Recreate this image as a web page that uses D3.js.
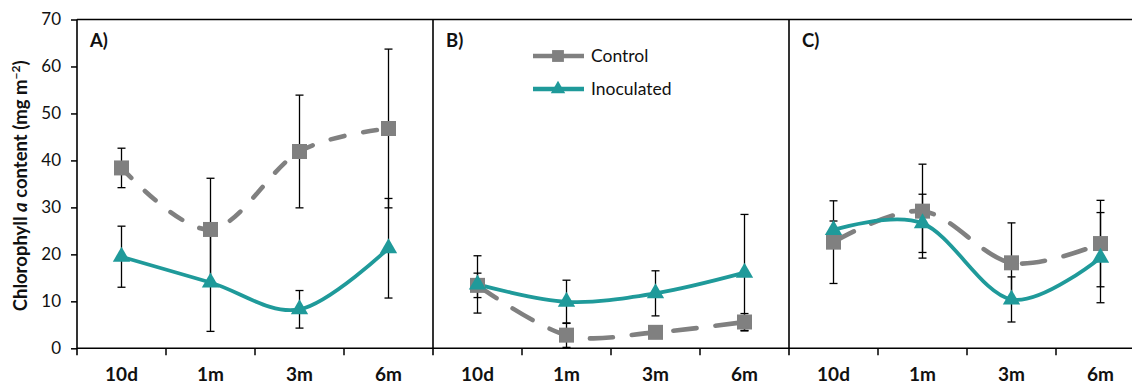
<!DOCTYPE html>
<html><head><meta charset="utf-8">
<script src="https://cdn.jsdelivr.net/npm/d3@7"></script>
<style>body{margin:0;background:#fff}svg{display:block}</style>
</head><body><svg id="c" width="1132" height="385"></svg>
<script>
const categories = ["10d","1m","3m","6m"];
const panelLabels = ["A)","B)","C)"];
const seriesNames = ["Control","Inoculated"];
const controlA = [38.4,25.3,41.9,46.8];
const controlAErr = [4.2,10.9,12.0,16.9];
const inocA = [19.5,14.0,8.3,21.3];
const inocAErr = [6.5,10.4,4.0,10.6];
const controlB = [13.4,2.8,3.4,5.6];
const controlBErr = [2.6,2.6,0.4,1.8];
const inocB = [13.6,9.9,11.7,16.1];
const inocBErr = [6.1,4.6,4.8,12.4];
const controlC = [22.6,29.2,18.2,22.3];
const controlCErr = [8.8,10.0,8.5,9.2];
const inocC = [25.2,26.6,10.4,19.3];
const inocCErr = [1.9,6.2,4.8,9.6];
const yTicks = [0,10,20,30,40,50,60,70];

const panels = [
  {label: panelLabels[0], control: controlA, cErr: controlAErr, inoc: inocA, iErr: inocAErr, dash: "14,19"},
  {label: panelLabels[1], control: controlB, cErr: controlBErr, inoc: inocB, iErr: inocBErr, dash: "23,19"},
  {label: panelLabels[2], control: controlC, cErr: controlCErr, inoc: inocC, iErr: inocCErr, dash: "23,19"}
];

const FONT = "Lato, 'Open Sans', sans-serif";
const TEXT = "#111";
const GRAY = "#808080";
const TEAL = "#1f9a9a";
const x0 = 77, panelW = 356, yTop = 19.5, yBot = 348.3, W = 1132;

const svg = d3.select("#c");
const y = d3.scaleLinear().domain([0,70]).range([yBot, yTop]);

const yAx = svg.append("g").attr("transform", `translate(${x0},0)`)
  .call(d3.axisLeft(y).tickValues(yTicks).tickSize(6).tickPadding(10).tickFormat(d3.format("d")));
yAx.select(".domain").remove();
yAx.selectAll("line").attr("stroke", "#000").attr("stroke-width", 1.5);
yAx.selectAll("text").attr("font-family", FONT).attr("font-size", 17).attr("fill", TEXT);

const frame = svg.append("g").attr("stroke", "#000").attr("stroke-width", 1.6).attr("fill", "none");
frame.append("line").attr("x1", x0).attr("x2", W).attr("y1", yTop).attr("y2", yTop);
frame.append("line").attr("x1", x0).attr("x2", W).attr("y1", yBot).attr("y2", yBot);

svg.append("text")
  .attr("transform", `translate(27,${(yTop+yBot)/2 + 2}) rotate(-90)`)
  .attr("text-anchor", "middle").attr("font-family", FONT).attr("font-weight", "bold")
  .attr("font-size", 18.5).attr("fill", TEXT)
  .call(t => {
    t.append("tspan").text("Chlorophyll ");
    t.append("tspan").attr("font-style", "italic").text("a");
    t.append("tspan").text(" content (mg m");
    t.append("tspan").attr("font-size", 12).attr("dy", -7).text("\u22122");
    t.append("tspan").attr("dy", 7).text(")");
  });

const line = d3.line().curve(d3.curveCardinal.tension(0));

panels.forEach((p, i) => {
  const left = x0 + i*panelW, right = left + panelW;
  const xb = d3.scaleBand().domain(categories).range([left, right]);
  const cx = d => xb(d) + xb.bandwidth()/2;
  const g = svg.append("g");

  g.append("line").attr("x1", left).attr("x2", left).attr("y1", yTop).attr("y2", yBot + 7)
    .attr("stroke", "#000").attr("stroke-width", 1.6);
  categories.forEach((c, k) => {
    if (k === 0) return;
    g.append("line").attr("x1", xb(c)).attr("x2", xb(c)).attr("y1", yBot).attr("y2", yBot + 7)
      .attr("stroke", "#000").attr("stroke-width", 1.5);
  });
  const xa = g.append("g").attr("transform", `translate(0,${yBot})`)
    .call(d3.axisBottom(xb).tickSize(0).tickPadding(19));
  xa.select(".domain").remove();
  xa.selectAll("text").attr("font-family", FONT).attr("font-weight", "bold")
    .attr("font-size", 19).attr("fill", TEXT);

  g.append("text").attr("x", left + 13).attr("y", 47).attr("font-family", FONT)
    .attr("font-weight", "bold").attr("font-size", 18.5).attr("fill", TEXT).text(p.label);

  const series = [
    {vals: p.control, err: p.cErr, color: GRAY, dash: p.dash, sym: d3.symbolSquare, size: 225},
    {vals: p.inoc, err: p.iErr, color: TEAL, dash: null, sym: d3.symbolTriangle, size: 130}
  ];

  const eb = g.append("g").attr("stroke", "#000").attr("stroke-width", 1.3);
  series.forEach(s => {
    categories.forEach((c, k) => {
      const v = s.vals[k], e = s.err[k], X = cx(c);
      eb.append("line").attr("x1", X).attr("x2", X).attr("y1", y(v+e)).attr("y2", y(Math.max(0, v-e)));
      [v+e, Math.max(0, v-e)].forEach(b => eb.append("line")
        .attr("x1", X-4).attr("x2", X+4).attr("y1", y(b)).attr("y2", y(b)));
    });
  });

  series.forEach(s => {
    const pts = categories.map((c, k) => [cx(c), y(s.vals[k])]);
    const path = g.append("path").attr("d", line(pts)).attr("fill", "none")
      .attr("stroke", s.color).attr("stroke-width", s.dash ? 4.6 : 3.8)
      .attr("stroke-linecap", s.dash ? "round" : "butt");
    if (s.dash) path.attr("stroke-dasharray", s.dash);
  });
  series.forEach(s => {
    categories.forEach((c, k) => {
      g.append("path").attr("d", d3.symbol().type(s.sym).size(s.size)())
        .attr("transform", `translate(${cx(c)},${y(s.vals[k])})`).attr("fill", s.color);
    });
  });
});

const lg = svg.append("g");
const legendItems = [
  {name: seriesNames[0], color: GRAY, sym: d3.symbolSquare, size: 140, yy: 56},
  {name: seriesNames[1], color: TEAL, sym: d3.symbolTriangle, size: 90, yy: 89}
];
legendItems.forEach(it => {
  lg.append("line").attr("x1", 533).attr("x2", 584).attr("y1", it.yy).attr("y2", it.yy)
    .attr("stroke", it.color).attr("stroke-width", 4.5);
  lg.append("path").attr("d", d3.symbol().type(it.sym).size(it.size)())
    .attr("transform", `translate(558,${it.yy})`).attr("fill", it.color);
  lg.append("text").attr("x", 591).attr("y", it.yy + 6).attr("font-family", FONT)
    .attr("font-size", 17.5).attr("fill", TEXT).text(it.name);
});
</script></body></html>
